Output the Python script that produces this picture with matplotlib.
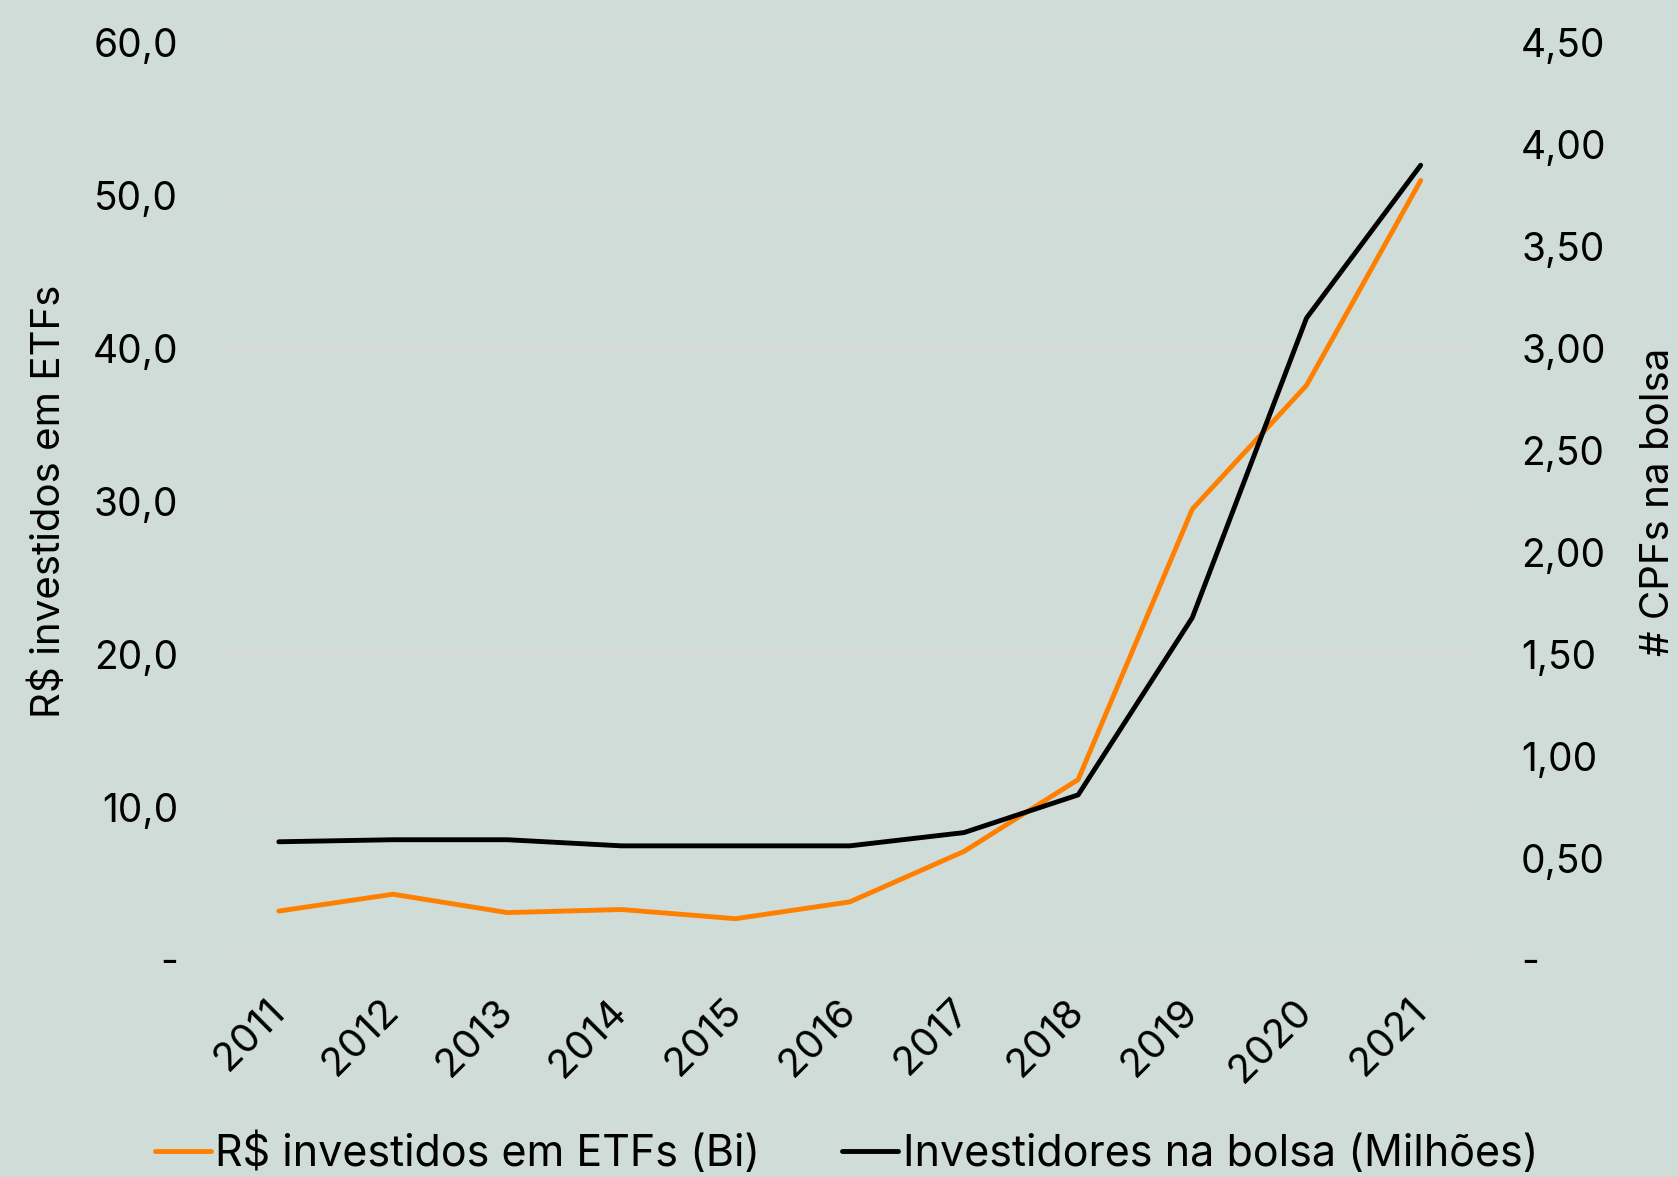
import matplotlib
matplotlib.use('Agg')
import matplotlib.pyplot as plt

years = ['2011', '2012', '2013', '2014', '2015', '2016', '2017', '2018', '2019', '2020', '2021']
etf_bi = [3.2, 4.3, 3.1, 3.3, 2.7, 3.8, 7.1, 11.8, 29.5, 37.6, 51.0]
investidores_mi = [0.58, 0.59, 0.59, 0.56, 0.56, 0.56, 0.625, 0.81, 1.68, 3.15, 3.90]

left_ticks = [0, 10, 20, 30, 40, 50, 60]
left_labels = ['-', '10,0', '20,0', '30,0', '40,0', '50,0', '60,0']
right_ticks = [0, 0.5, 1.0, 1.5, 2.0, 2.5, 3.0, 3.5, 4.0, 4.5]
right_labels = ['-', '0,50', '1,00', '1,50', '2,00', '2,50', '3,00', '3,50', '4,00', '4,50']

bg = '#cfdcd7'
plt.rcParams['font.family'] = ['Inter', 'DejaVu Sans']

fig = plt.figure(figsize=(16.78, 11.77), dpi=100, facecolor=bg)
ax = fig.add_axes([0.1335, 0.1844, 0.7465, 0.7791])
ax.set_facecolor(bg)
ax2 = ax.twinx()

x = list(range(len(years)))
l1, = ax.plot(x, etf_bi, color='#ff8000', lw=3.5, solid_capstyle='round',
              label='R$ investidos em ETFs (Bi)')
l2, = ax2.plot(x, investidores_mi, color='black', lw=3.5, solid_capstyle='round',
               label='Investidores na bolsa (Milhões)')

ax.set_xlim(-0.48, 10.49)
ax.set_ylim(0, 60)
ax2.set_ylim(0, 4.5)

ax.set_yticks(left_ticks)
ax.set_yticklabels(left_labels)
ax2.set_yticks(right_ticks)
ax2.set_yticklabels(right_labels)
ax.set_xticks(x)
ax.set_xticklabels(years, rotation=45, ha='right', va='center', rotation_mode='anchor')

ax.yaxis.grid(True, color='#d9d9d9', lw=1.5)
ax.set_axisbelow(True)
for a in (ax, ax2):
    for s in a.spines.values():
        s.set_visible(False)
fs = 28
ax.tick_params(axis='y', length=0, pad=33, labelsize=fs)
ax2.tick_params(axis='y', length=0, pad=32, labelsize=fs)
ax.tick_params(axis='x', length=0, pad=33, labelsize=29)

ax.set_ylabel('R$ investidos em ETFs', fontsize=29, labelpad=18)
ax2.set_ylabel('# CPFs na bolsa', fontsize=29, labelpad=24)

fig.legend(handles=[l1, l2], loc='center', bbox_to_anchor=(0.5045, 0.02), ncol=2,
           frameon=False, fontsize=31, handlelength=1.3, handletextpad=0.1,
           columnspacing=1.9)

fig.savefig('out.png', dpi=100, facecolor=bg)
